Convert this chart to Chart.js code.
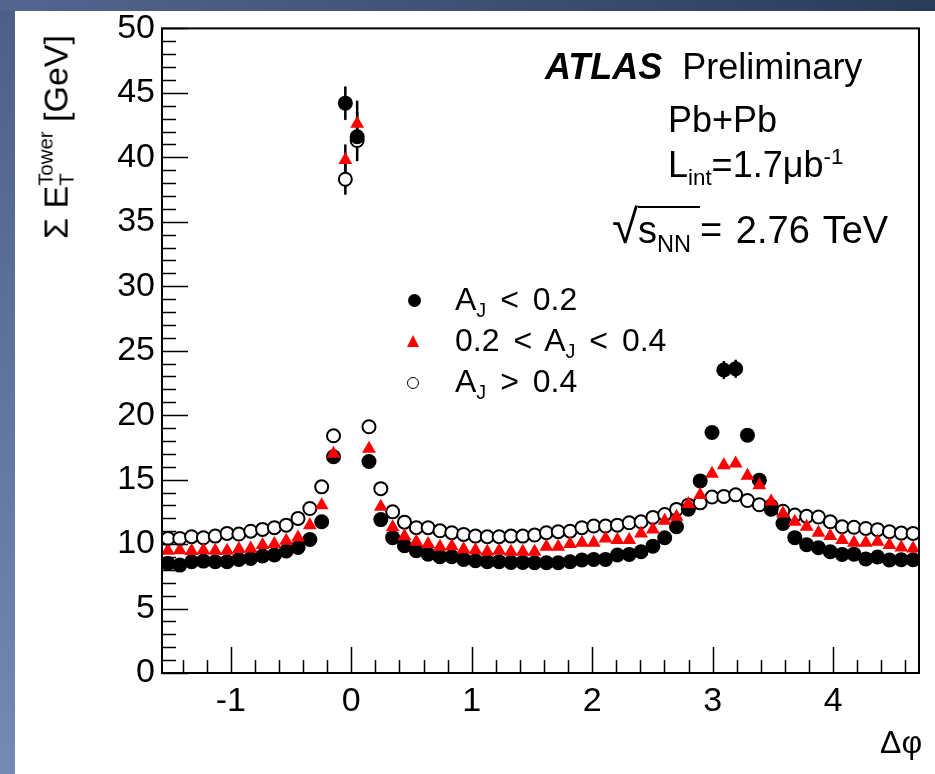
<!DOCTYPE html>
<html>
<head>
<meta charset="utf-8">
<script src="https://cdn.jsdelivr.net/npm/chart.js@4.4.1/dist/chart.umd.min.js"></script>
<style>
  html, body { margin: 0; padding: 0; }
  body { width: 935px; height: 774px; position: relative; overflow: hidden;
         font-family: "Liberation Sans", Arial, sans-serif; color: #000; }
  #leftbar { position: absolute; left: 0; top: 0; width: 15px; height: 774px;
             background: linear-gradient(to bottom, #4d5f87, #7489b3); }
  #topbar { position: absolute; left: 0; top: 0; width: 935px; height: 11px;
            background: linear-gradient(to right, #53668e, #2b3b5a); }
  #paper { position: absolute; left: 15px; top: 11px; width: 920px; height: 763px; background: #fff; }
  #wrap { position: absolute; left: 15px; top: 1px; width: 920px; height: 773px; }
  .txt { position: absolute; white-space: nowrap; line-height: 1; }
  sub, sup { font-size: 0.62em; line-height: 0; }
  #ytitle { position: absolute; left: 57px; top: 137px; font-size: 34px; white-space: nowrap;
            line-height: 1; transform: translate(-50%, -50%) rotate(-90deg); }
  .stack { display: inline-block; vertical-align: -0.32em; font-size: 0.6em; line-height: 1.05; text-align: left; }
  .legrow { position: absolute; font-size: 32px; line-height: 1; white-space: nowrap; word-spacing: 5px; }
  .mk { position: absolute; }
</style>
</head>
<body>
<div id="leftbar"></div>
<div id="topbar"></div>
<div id="paper"></div>
<div id="wrap"><canvas id="phiChart"></canvas></div>

<div id="ytitle">&Sigma; E<span class="stack">Tower<br>T</span> [GeV]</div>
<div class="txt" style="left:880px; top:726px; font-size:32px;">&Delta;&phi;</div>

<div class="txt" style="left:545px; top:49px; font-size:36px;"><b><i>ATLAS</i></b>&nbsp; Preliminary</div>
<div class="txt" style="left:668px; top:102px; font-size:36px;">Pb+Pb</div>
<div class="txt" style="left:668px; top:147px; font-size:36px;">L<sub>int</sub>=1.7&mu;b<sup>-1</sup></div>
<div class="txt" style="left:612px; top:203px; font-size:38px;"><span style="font-size:1.25em;">&radic;</span><span style="border-top:2px solid #000; padding-top:1px; padding-right:9px;">s<sub>NN</sub></span><span style="word-spacing:3px;">= 2.76 TeV</span></div>

<div id="legend"></div>

<script>
// 64 bins in delta phi, -pi/2 .. 3pi/2
const nBins = 64;
const binCenters = Array.from({length: nBins}, (_, i) => -Math.PI / 2 + (i + 0.5) * Math.PI / 32);

// A_J < 0.2
const etLow = [8.50, 8.37, 8.63, 8.68, 8.63, 8.63, 8.81, 8.89, 9.07, 9.15, 9.46, 9.74, 10.36, 11.73, 16.77, 44.2,
  41.6, 16.4, 11.9, 10.5, 9.87, 9.48, 9.22, 9.02, 9.02, 8.81, 8.71, 8.63, 8.63, 8.58, 8.58, 8.55,
  8.55, 8.55, 8.63, 8.76, 8.81, 8.81, 9.15, 9.20, 9.40, 9.84, 10.49, 11.34, 12.7, 14.9, 18.66, 23.5,
  23.6, 18.45, 14.96, 12.7, 11.6, 10.5, 9.95, 9.72, 9.40, 9.2, 9.22, 8.85, 9.0, 8.76, 8.78, 8.78];
// 0.2 < A_J < 0.4
const etMid = [9.48, 9.53, 9.46, 9.53, 9.48, 9.48, 9.61, 9.66, 9.92, 10.0, 10.26, 10.52, 11.47, 13.02, 17.0, 39.8,
  42.6, 17.4, 12.9, 11.3, 10.6, 10.18, 10.0, 9.8, 9.84, 9.59, 9.53, 9.4, 9.48, 9.4, 9.4, 9.4,
  9.79, 9.79, 10.0, 10.1, 10.1, 10.44, 10.31, 10.31, 10.83, 11.14, 11.81, 12.12, 13.1, 13.8, 15.45, 16.12,
  16.25, 15.3, 14.57, 13.3, 12.38, 11.73, 11.34, 10.88, 10.62, 10.31, 10.1, 10.1, 10.18, 9.92, 9.74, 9.66];
// A_J > 0.4
const etHigh = [10.44, 10.44, 10.57, 10.49, 10.62, 10.83, 10.78, 11.0, 11.14, 11.27, 11.47, 11.99, 12.76, 14.44, 18.4, 38.3,
  41.3, 19.1, 14.3, 12.5, 11.7, 11.27, 11.27, 11.03, 10.88, 10.75, 10.62, 10.57, 10.57, 10.62, 10.62, 10.70,
  10.88, 10.96, 11.0, 11.27, 11.40, 11.40, 11.47, 11.65, 11.73, 12.07, 12.30, 12.69, 13.02, 13.2, 13.65, 13.7,
  13.82, 13.38, 13.05, 12.95, 12.55, 12.25, 12.15, 12.1, 11.73, 11.34, 11.3, 11.21, 11.12, 10.96, 10.85, 10.83];

// visible error bars (bin index -> half length)
const errLow = {15: 1.3, 16: 1.9, 47: 0.7, 48: 0.7};
const errMid = {15: 1.2, 16: 1.8};
const errHigh = {15: 1.2};

const xTicks = [-1, 0, 1, 2, 3, 4];
const yTicks = [0, 5, 10, 15, 20, 25, 30, 35, 40, 45, 50];

const seriesNames = ['A_J < 0.2', '0.2 < A_J < 0.4', 'A_J > 0.4'];
const legendHtml = ['A<sub>J</sub> &lt; 0.2', '0.2 &lt; A<sub>J</sub> &lt; 0.4', 'A<sub>J</sub> &gt; 0.4'];

function pts(vals) {
  return vals.map((v, i) => ({x: binCenters[i], y: v}));
}

const tickFont = {family: '"Liberation Sans", Arial, sans-serif', size: 34};

// error bars, drawn under the markers
const errorBars = {
  id: 'errorBars',
  beforeDatasetsDraw(chart) {
    const ctx = chart.ctx;
    const x = chart.scales.x, y = chart.scales.y;
    ctx.save();
    ctx.strokeStyle = '#000';
    ctx.lineWidth = 2.5;
    chart.data.datasets.forEach(ds => {
      Object.keys(ds.errors).forEach(k => {
        const p = ds.data[k];
        const px = x.getPixelForValue(p.x);
        ctx.beginPath();
        ctx.moveTo(px, y.getPixelForValue(p.y - ds.errors[k]));
        ctx.lineTo(px, y.getPixelForValue(p.y + ds.errors[k]));
        ctx.stroke();
      });
    });
    ctx.restore();
  }
};

// ROOT style frame with inward ticks
const rootFrame = {
  id: 'rootFrame',
  afterDraw(chart) {
    const ctx = chart.ctx;
    const a = chart.chartArea;
    const x = chart.scales.x, y = chart.scales.y;
    ctx.save();
    ctx.strokeStyle = '#000';
    ctx.lineWidth = 1.5;
    ctx.beginPath();
    // y: major every 5, minor every 1
    for (let i = 0; i < yTicks.length; i++) {
      const v0 = yTicks[i];
      for (let m = 0; m < 5; m++) {
        const v = v0 + m;
        if (v > y.max) break;
        const py = Math.round(y.getPixelForValue(v)) + 0.5;
        ctx.moveTo(a.left, py);
        ctx.lineTo(a.left + (m === 0 ? 26 : 14), py);
      }
    }
    // x: major every 1, minor every 0.2
    for (let k = -10; k <= 30; k++) {
      const v = k * 0.2;
      if (v < x.min || v > x.max) continue;
      const px = Math.round(x.getPixelForValue(v)) + 0.5;
      ctx.moveTo(px, a.bottom);
      ctx.lineTo(px, a.bottom - (k % 5 === 0 ? 26 : 13));
    }
    ctx.stroke();
    ctx.lineWidth = 2;
    ctx.strokeRect(a.left, a.top, a.right - a.left, a.bottom - a.top);
    ctx.restore();
  }
};

const phiData = {
  datasets: [
    {label: seriesNames[0], data: pts(etLow), errors: errLow, order: 2,
     pointStyle: 'circle', pointRadius: 7.5, backgroundColor: '#000', borderColor: '#000', borderWidth: 0},
    {label: seriesNames[1], data: pts(etMid), errors: errMid, order: 1,
     pointStyle: 'triangle', pointRadius: 8, backgroundColor: '#ff0000', borderColor: '#ff0000', borderWidth: 0},
    {label: seriesNames[2], data: pts(etHigh), errors: errHigh, order: 3,
     pointStyle: 'circle', pointRadius: 6.5, backgroundColor: '#fff', borderColor: '#000', borderWidth: 2}
  ]
};

const phiConfig = {
  type: 'scatter',
  data: phiData,
  options: {
    animation: false,
    responsive: true,
    maintainAspectRatio: false,
    devicePixelRatio: 1,
    layout: {padding: {top: 0, right: 16, left: 0, bottom: 0}},
    plugins: {legend: {display: false}, tooltip: {enabled: false}},
    scales: {
      x: {
        type: 'linear', min: -Math.PI / 2, max: 1.5 * Math.PI,
        afterBuildTicks: s => { s.ticks = xTicks.map(v => ({value: v})); },
        afterFit: s => { s.height = 101; },
        grid: {display: false, drawTicks: false}, border: {display: false},
        ticks: {font: tickFont, color: '#000', padding: 8, maxRotation: 0}
      },
      y: {
        min: 0, max: 50,
        afterBuildTicks: s => { s.ticks = yTicks.map(v => ({value: v})); },
        afterFit: s => { s.width = 147; },
        grid: {display: false, drawTicks: false}, border: {display: false},
        ticks: {font: tickFont, color: '#000', padding: 7}
      }
    }
  },
  plugins: [errorBars, rootFrame]
};

const phiChart = new Chart(document.getElementById('phiChart'), phiConfig);

// legend (needs subscripts, so html)
const markRows = [300, 342, 383];
const textRows = [283, 324, 365];
let html = '';
html += '<div class="mk" style="left:408px; top:' + (markRows[0] - 6.5) + 'px; width:13px; height:13px; border-radius:50%; background:#000;"></div>';
html += '<div class="mk" style="left:407px; top:' + (markRows[1] - 7) + 'px; width:0; height:0; border-left:6.5px solid transparent; border-right:6.5px solid transparent; border-bottom:12px solid #f00;"></div>';
html += '<div class="mk" style="left:407px; top:' + (markRows[2] - 6.5) + 'px; width:10px; height:10px; border-radius:50%; border:1.5px solid #000;"></div>';
textRows.forEach((t, i) => {
  html += '<div class="legrow" style="left:455px; top:' + t + 'px;">' + legendHtml[i] + '</div>';
});
document.getElementById('legend').innerHTML = html;
</script>
</body>
</html>
